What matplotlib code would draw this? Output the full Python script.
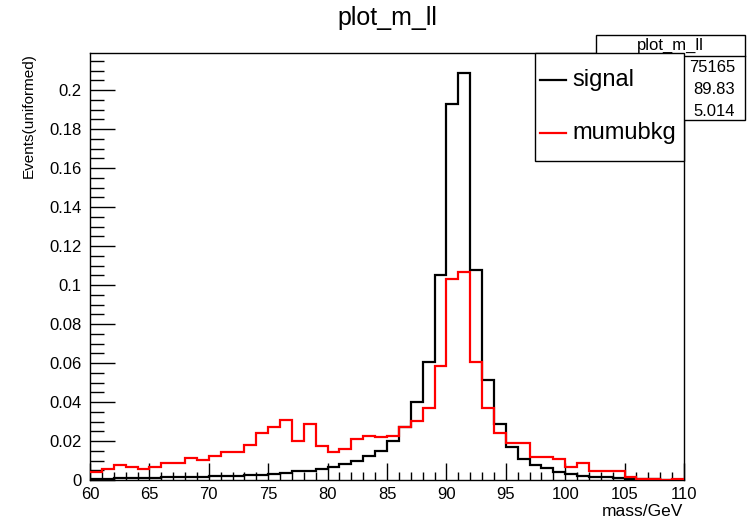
import matplotlib
matplotlib.use("Agg")
import matplotlib.pyplot as plt
import numpy as np
from matplotlib.patches import Rectangle
from matplotlib.lines import Line2D
from matplotlib.ticker import MultipleLocator, FuncFormatter

plt.rcParams['font.family'] = ['Liberation Sans', 'DejaVu Sans']

bin_edges = list(range(60, 111))
signal = [0.0007, 0.0007, 0.0008, 0.0008, 0.0008, 0.0010, 0.0014, 0.0015, 0.0015, 0.0016,
          0.0018, 0.0021, 0.0019, 0.0024, 0.0025, 0.0029, 0.0034, 0.0046, 0.0048, 0.0056,
          0.0068, 0.0080, 0.0099, 0.0121, 0.0150, 0.0200, 0.0270, 0.0400, 0.0603, 0.1053,
          0.1930, 0.2085, 0.1077, 0.0513, 0.0285, 0.0171, 0.0108, 0.0077, 0.0060, 0.0043,
          0.0031, 0.0022, 0.0017, 0.0014, 0.0010, 0.0007, 0.0005, 0.0004, 0.0002, 0.0002]
mumubkg = [0.0039, 0.0058, 0.0077, 0.0068, 0.0055, 0.0068, 0.0089, 0.0089, 0.0111, 0.0103,
           0.0121, 0.0145, 0.0145, 0.0178, 0.0243, 0.0270, 0.0306, 0.0202, 0.0286, 0.0173,
           0.0145, 0.0159, 0.0212, 0.0227, 0.0219, 0.0227, 0.0274, 0.0304, 0.0367, 0.0586,
           0.1029, 0.1065, 0.0603, 0.0367, 0.0240, 0.0188, 0.0188, 0.0116, 0.0116, 0.0106,
           0.0068, 0.0085, 0.0048, 0.0048, 0.0048, 0.0014, 0.0005, 0.0005, 0.0000, 0.0003]
series_names = ["signal", "mumubkg"]
stat_title = "plot_m_ll"
stat_values = ["75165", "89.83", "5.014"]

W, H = 753, 522
fig = plt.figure(figsize=(W / 100, H / 100), dpi=100)
ax = fig.add_axes([90 / W, 1 - 480 / H, (684 - 90) / W, (480 - 53) / H])

ax.stairs(signal, bin_edges, color='black', linewidth=1.6, baseline=None, zorder=3)
ax.stairs(mumubkg, bin_edges, color='#ff0000', linewidth=1.6, baseline=None, zorder=4)

ax.set_xlim(60, 110)
ax.set_ylim(0, 0.219)
ax.xaxis.set_major_locator(MultipleLocator(5))
ax.xaxis.set_minor_locator(MultipleLocator(1))
ax.yaxis.set_major_locator(MultipleLocator(0.02))
ax.yaxis.set_minor_locator(MultipleLocator(0.005))

def yfmt(v, pos):
    s = ('%.2f' % v).rstrip('0').rstrip('.')
    return s
ax.yaxis.set_major_formatter(FuncFormatter(yfmt))

ax.tick_params(axis='x', which='major', direction='in', length=12, width=1, labelsize=12, pad=5, top=False)
ax.tick_params(axis='x', which='minor', direction='in', length=6, width=1, top=False)
ax.tick_params(axis='y', which='major', direction='in', length=18, width=1, labelsize=12, pad=6, right=False)
ax.tick_params(axis='y', which='minor', direction='in', length=10, width=1, right=False)
for sp in ax.spines.values():
    sp.set_linewidth(1)

fig.text(387 / W, 1 - 18 / H, "plot_m_ll", ha='center', va='center', fontsize=18)
fig.text(683 / W, 1 - 511 / H, "mass/GeV", ha='right', va='center', fontsize=12.5)
fig.text(29 / W, 1 - 53 / H, "Events(uniformed)", ha='center', va='top', rotation=90, fontsize=11)

# stat box
sx0, sx1, sy0, sy1 = 596, 745, 35, 120
fig.add_artist(Rectangle((sx0 / W, 1 - sy1 / H), (sx1 - sx0) / W, (sy1 - sy0) / H,
                         transform=fig.transFigure, facecolor='white', edgecolor='black',
                         linewidth=1, zorder=10))
fig.add_artist(Line2D([sx0 / W, sx1 / W], [1 - 56 / H, 1 - 56 / H], transform=fig.transFigure,
                      color='black', linewidth=1, zorder=11))
fig.text(670 / W, 1 - 45.5 / H, stat_title, ha='center', va='center', fontsize=12, zorder=12)
for val, yy in zip(stat_values, [67, 90, 111]):
    fig.text(735 / W, 1 - yy / H, val, ha='right', va='center', fontsize=12, zorder=12)

# legend box
lx0, lx1, ly0, ly1 = 535, 684, 53, 161
fig.add_artist(Rectangle((lx0 / W, 1 - ly1 / H), (lx1 - lx0) / W, (ly1 - ly0) / H,
                         transform=fig.transFigure, facecolor='white', edgecolor='black',
                         linewidth=1, zorder=20))
for name, col, yy in zip(series_names, ['black', '#ff0000'], [80, 133]):
    fig.add_artist(Line2D([540 / W, 566 / W], [1 - yy / H, 1 - yy / H], transform=fig.transFigure,
                          color=col, linewidth=1.6, zorder=21))
    fig.text(572 / W, 1 - yy / H, name, ha='left', va='center', fontsize=17, zorder=22)

fig.savefig("out.png", dpi=100)
